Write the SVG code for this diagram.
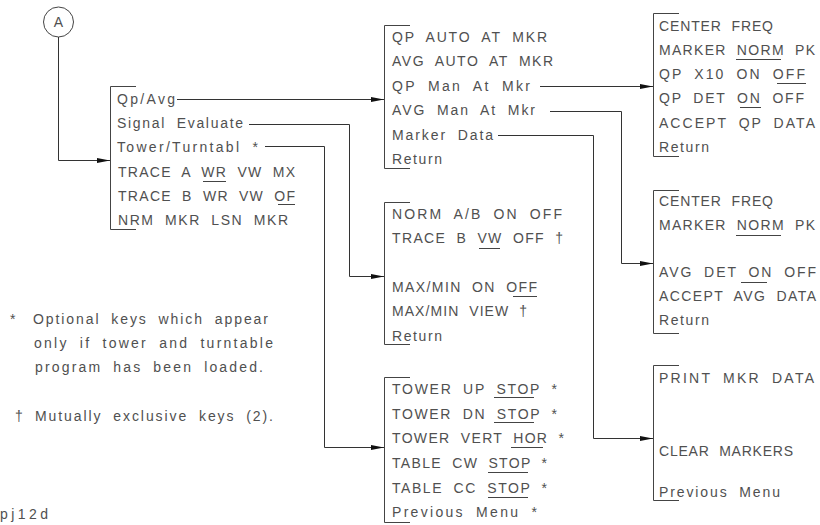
<svg xmlns="http://www.w3.org/2000/svg" width="820" height="525" viewBox="0 0 820 525">
<style>
text{font-family:"Liberation Sans",Arial,sans-serif;font-size:14px;fill:#505050;word-spacing:5px}
.br,.ul,.cn{fill:none;stroke:#444;stroke-width:1}
.cn{stroke:#333}
</style>
<defs>
<marker id="ah" markerWidth="13" markerHeight="6" refX="13" refY="3" orient="auto" markerUnits="userSpaceOnUse">
<path d="M0,0.5 L13,3 L0,5.5 z" fill="#111"/>
</marker>
</defs>
<rect width="820" height="525" fill="#fff"/>

<g id="nodeA">
<circle cx="58.5" cy="22" r="15" fill="none" stroke="#444"/>
<text x="58.5" y="27" text-anchor="middle">A</text>
</g>

<g id="menu1">
<path class="br" d="M136,86.5 H110.5 V229.5 H136"/>
<text x="117" y="104" textLength="58" lengthAdjust="spacing">Qp/Avg</text>
<text x="117" y="128" textLength="126" lengthAdjust="spacing">Signal Evaluate</text>
<text x="117" y="152" textLength="141" lengthAdjust="spacing">Tower/Turntabl *</text>
<text x="118" y="177" textLength="177" lengthAdjust="spacing">TRACE A WR VW MX</text>
<text x="118" y="201" textLength="177" lengthAdjust="spacing">TRACE B WR VW OF</text>
<text x="118" y="225" textLength="170" lengthAdjust="spacing">NRM MKR LSN MKR</text>
<path class="ul" d="M203,181.5 H226 M278,204.5 H295"/>
</g>

<g id="menu-qpavg">
<path class="br" d="M410,25.5 H384.5 V168.5 H410"/>
<text x="392" y="42" textLength="155" lengthAdjust="spacing">QP AUTO AT MKR</text>
<text x="392" y="66" textLength="161" lengthAdjust="spacing">AVG AUTO AT MKR</text>
<text x="392" y="91" textLength="138" lengthAdjust="spacing">QP Man At Mkr</text>
<text x="392" y="115" textLength="143" lengthAdjust="spacing">AVG Man At Mkr</text>
<text x="392" y="140" textLength="101" lengthAdjust="spacing">Marker Data</text>
<text x="392" y="164" textLength="50" lengthAdjust="spacing">Return</text>
</g>

<g id="menu-qpman">
<path class="br" d="M679,13.5 H653.5 V156.5 H679"/>
<text x="659" y="31" textLength="114" lengthAdjust="spacing">CENTER FREQ</text>
<text x="659" y="55" textLength="156" lengthAdjust="spacing">MARKER NORM PK</text>
<text x="659" y="79" textLength="146" lengthAdjust="spacing">QP X10 ON OFF</text>
<text x="659" y="103" textLength="145" lengthAdjust="spacing">QP DET ON OFF</text>
<text x="659" y="128" textLength="156" lengthAdjust="spacing">ACCEPT QP DATA</text>
<text x="659" y="152" textLength="50" lengthAdjust="spacing">Return</text>
<path class="ul" d="M736,59.5 H781 M777,83.5 H806 M740,107.5 H761"/>
</g>

<g id="menu-avgman">
<path class="br" d="M679,190.5 H653.5 V333.5 H679"/>
<text x="659" y="206" textLength="114" lengthAdjust="spacing">CENTER FREQ</text>
<text x="659" y="230" textLength="156" lengthAdjust="spacing">MARKER NORM PK</text>
<text x="659" y="277" textLength="157" lengthAdjust="spacing">AVG DET ON OFF</text>
<text x="659" y="301" textLength="157" lengthAdjust="spacing">ACCEPT AVG DATA</text>
<text x="659" y="325" textLength="50" lengthAdjust="spacing">Return</text>
<path class="ul" d="M736,235.5 H781 M741,282.5 H767"/>
</g>

<g id="menu-markerdata">
<path class="br" d="M679,365.5 H653.5 V500.5 H679"/>
<text x="659" y="383" textLength="155" lengthAdjust="spacing">PRINT MKR DATA</text>
<text x="659" y="456" textLength="134" lengthAdjust="spacing">CLEAR MARKERS</text>
<text x="659" y="497" textLength="121" lengthAdjust="spacing">Previous Menu</text>
</g>

<g id="menu-signal">
<path class="br" d="M410,202.5 H384.5 V344.5 H410"/>
<text x="392" y="219" textLength="170" lengthAdjust="spacing">NORM A/B ON OFF</text>
<text x="392" y="243" textLength="171" lengthAdjust="spacing">TRACE B VW OFF †</text>
<text x="392" y="292" textLength="145" lengthAdjust="spacing">MAX/MIN ON OFF</text>
<text x="392" y="316" textLength="135" lengthAdjust="spacing">MAX/MIN VIEW †</text>
<text x="392" y="341" textLength="50" lengthAdjust="spacing">Return</text>
<path class="ul" d="M479,248.5 H500 M513,296.5 H537"/>
</g>

<g id="menu-tower">
<path class="br" d="M410,377.5 H384.5 V522.5 H410"/>
<text x="392" y="394" textLength="165" lengthAdjust="spacing">TOWER UP STOP *</text>
<text x="392" y="419" textLength="165" lengthAdjust="spacing">TOWER DN STOP *</text>
<text x="392" y="443" textLength="172" lengthAdjust="spacing">TOWER VERT HOR *</text>
<text x="392" y="468" textLength="155" lengthAdjust="spacing">TABLE CW STOP *</text>
<text x="392" y="493" textLength="155" lengthAdjust="spacing">TABLE CC STOP *</text>
<text x="392" y="517" textLength="145" lengthAdjust="spacing">Previous Menu *</text>
<path class="ul" d="M494,397.5 H534 M494,422.5 H534 M511,447.5 H543 M488,472.5 H528 M488,497.5 H528"/>
</g>

<g id="notes">
<text x="10" y="324">*</text>
<text x="33" y="324" textLength="235" lengthAdjust="spacing">Optional keys which appear</text>
<text x="34" y="348" textLength="239" lengthAdjust="spacing">only if tower and turntable</text>
<text x="35" y="372" textLength="228" lengthAdjust="spacing">program has been loaded.</text>
<text x="15" y="421">†</text>
<text x="35" y="421" textLength="238" lengthAdjust="spacing">Mutually exclusive keys (2).</text>
<text x="0" y="519" textLength="48" lengthAdjust="spacing">pj12d</text>
</g>

<g id="connectors">
<path class="cn" d="M58.5,37 V160.5 H110" marker-end="url(#ah)"/>
<path class="cn" d="M177,99.5 H384" marker-end="url(#ah)"/>
<path class="cn" d="M249,124.5 H349.5 V276.5 H384" marker-end="url(#ah)"/>
<path class="cn" d="M265,146.5 H324.5 V447.5 H384" marker-end="url(#ah)"/>
<path class="cn" d="M540,86.5 H653" marker-end="url(#ah)"/>
<path class="cn" d="M550,111.5 H621.5 V263.5 H653" marker-end="url(#ah)"/>
<path class="cn" d="M498,135.5 H593.5 V438.5 H653" marker-end="url(#ah)"/>
</g>
</svg>
